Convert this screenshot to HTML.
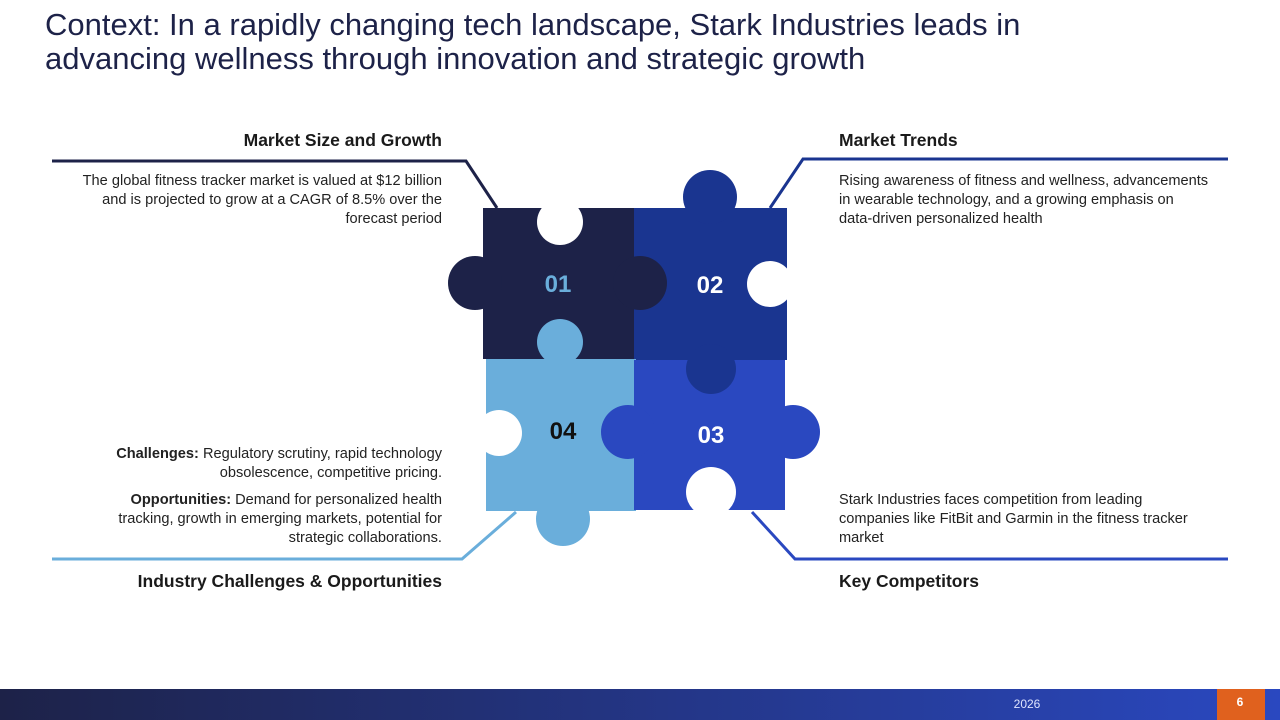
<!DOCTYPE html>
<html><head><meta charset="utf-8"><style>
body{margin:0;width:1280px;height:720px;position:relative;background:#fff;font-family:"Liberation Sans",sans-serif;overflow:hidden}
.t{position:absolute;color:#1d2248;font-size:31px;left:45px;top:8px;line-height:34px;width:1065px}
.h{position:absolute;font-weight:bold;font-size:17.5px;color:#1a1a1a}
.p{position:absolute;font-size:14.6px;line-height:19px;color:#222}
.r{text-align:right}
</style></head><body>
<div class="t">Context: In a rapidly changing tech landscape, Stark Industries leads in advancing wellness through innovation and strategic growth</div>
<svg width="1280" height="720" style="position:absolute;left:0;top:0">
<defs><linearGradient id="g" x1="0" x2="1"><stop offset="0" stop-color="#1d2248"/><stop offset="1" stop-color="#2a48c0"/></linearGradient></defs>
<g fill="none" stroke-width="3">
<polyline points="52,161 466,161 497,208" stroke="#1d2248"/>
<polyline points="1228,159 803,159 770,208" stroke="#1a3590"/>
<polyline points="52,559 462,559 516,512" stroke="#6aaedb"/>
<polyline points="1228,559 795,559 752,512" stroke="#2a48c0"/>
</g>
<rect x="483" y="208" width="151" height="151" fill="#1d2248"/>
<rect x="634" y="208" width="153" height="152" fill="#1a3590"/>
<rect x="486" y="359" width="150" height="152" fill="#6aaedb"/>
<rect x="634" y="360" width="151" height="150" fill="#2a48c0"/>
<circle cx="475" cy="283" r="27" fill="#1d2248"/><circle cx="640" cy="283" r="27" fill="#1d2248"/>
<circle cx="710" cy="197" r="27" fill="#1a3590"/><circle cx="711" cy="369" r="25" fill="#1a3590"/>
<circle cx="560" cy="342" r="23" fill="#6aaedb"/><circle cx="563" cy="519" r="27" fill="#6aaedb"/>
<circle cx="628" cy="432" r="27" fill="#2a48c0"/><circle cx="793" cy="432" r="27" fill="#2a48c0"/>
<circle cx="560" cy="222" r="23" fill="#fff"/><circle cx="770" cy="284" r="23" fill="#fff"/>
<circle cx="499" cy="433" r="23" fill="#fff"/><circle cx="711" cy="492" r="25" fill="#fff"/>
<g font-family="Liberation Sans" font-weight="bold" font-size="24" text-anchor="middle">
<text x="558" y="292" fill="#6aaedb">01</text><text x="710" y="293" fill="#fff">02</text>
<text x="711" y="443" fill="#fff">03</text><text x="563" y="439" fill="#111">04</text>
</g>
<rect x="0" y="689" width="1280" height="31" fill="url(#g)"/>
<rect x="1217" y="689" width="48" height="31" fill="#e0611e"/>
<text x="1027" y="708" fill="#dfe4ff" font-family="Liberation Sans" font-size="12" text-anchor="middle">2026</text>
<text x="1240" y="706" fill="#fff" font-family="Liberation Sans" font-weight="bold" font-size="12" text-anchor="middle">6</text>
</svg>
<div class="h r" style="right:838px;top:130px">Market Size and Growth</div>
<div class="p r" style="right:838px;top:172px;width:380px">The global fitness tracker market is valued at $12 billion and is projected to grow at a CAGR of 8.5% over the forecast period</div>
<div class="h" style="left:839px;top:130px">Market Trends</div>
<div class="p" style="left:839px;top:172px;width:378px">Rising awareness of fitness and wellness, advancements in wearable technology, and a growing emphasis on data&#8209;driven personalized health</div>
<div class="p r" style="right:838px;top:445px;width:380px"><b>Challenges:</b> Regulatory scrutiny, rapid technology obsolescence, competitive pricing.</div>
<div class="p r" style="right:838px;top:491px;width:350px"><b>Opportunities:</b> Demand for personalized health tracking, growth in emerging markets, potential for strategic collaborations.</div>
<div class="h r" style="right:838px;top:571px">Industry Challenges &amp; Opportunities</div>
<div class="p" style="left:839px;top:491px;width:370px">Stark Industries faces competition from leading companies like FitBit and Garmin in the fitness tracker market</div>
<div class="h" style="left:839px;top:571px">Key Competitors</div>
</body></html>
